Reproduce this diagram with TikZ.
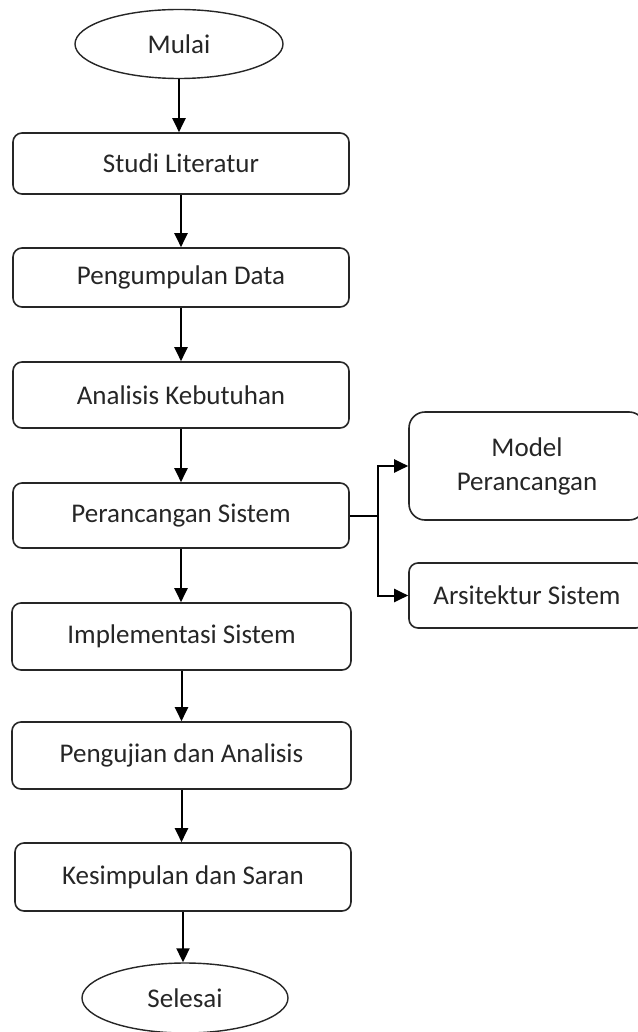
\documentclass[tikz,border=0pt]{standalone}
\usepackage{fontspec}
\setmainfont{Carlito}
\usetikzlibrary{shapes.geometric,arrows.meta,calc}
\begin{document}
\begin{tikzpicture}[x=1pt,y=-1pt,
  every node/.style={font=\fontsize{27}{33}\selectfont, text=black!85},
  box/.style={draw=black!85, line width=1.6pt, rounded corners=9pt, align=center, inner sep=0pt},
  term/.style={draw=black!85, line width=1.4pt, ellipse, inner sep=0pt},
  arr/.style={draw=black, line width=2pt, -{Triangle[length=14pt,width=13pt]}},
  ln/.style={draw=black, line width=2pt}]
\useasboundingbox (0,0) rectangle (637,1032);
\node[term, minimum width=208pt, minimum height=69pt] (mulai) at (179,44) {Mulai};
\node[box, minimum width=336pt, minimum height=61pt] (studi) at (181,163.5) {Studi Literatur};
\node[box, minimum width=336pt, minimum height=59pt] (kumpul) at (181,277.5) {Pengumpulan Data};
\node[box, minimum width=336pt, minimum height=66pt] (analisis) at (181,395) {Analisis Kebutuhan};
\node[box, minimum width=336pt, minimum height=65pt] (rancang) at (181,515.5) {Perancangan Sistem};
\node[box, minimum width=339pt, minimum height=67pt] (impl) at (181.5,636.5) {Implementasi Sistem};
\node[box, minimum width=339pt, minimum height=67pt] (uji) at (181.5,755.5) {Pengujian dan Analisis};
\node[box, minimum width=336pt, minimum height=68pt] (simpul) at (183,877) {Kesimpulan dan Saran};
\node[term, minimum width=206pt, minimum height=70pt] (selesai) at (185,998) {Selesai};
\node[box, rounded corners=16pt, minimum width=236pt, minimum height=108pt, text width=230pt, font=\fontsize{27}{34}\selectfont] (model) at (527,466) {Model\\Perancangan};
\node[box, minimum width=236pt, minimum height=65pt] (arsi) at (527,595.5) {Arsitektur Sistem};
\coordinate (j) at (378,515.5);

\draw[arr] (mulai.south) -- (mulai.south |- studi.north);
\draw[arr] (studi.south) -- (studi.south |- kumpul.north);
\draw[arr] (kumpul.south) -- (kumpul.south |- analisis.north);
\draw[arr] (analisis.south) -- (analisis.south |- rancang.north);
\draw[arr] (rancang.south) -- (rancang.south |- impl.north);
\draw[arr] (impl.south) -- (impl.south |- uji.north);
\draw[arr] (uji.south) -- (uji.south |- simpul.north);
\draw[arr] (simpul.south) -- (simpul.south |- selesai.north);
\draw[ln] (rancang.east) -- (j);
\draw[arr] (j) |- (model.west);
\draw[arr] (j) |- (arsi.west);
\end{tikzpicture}
\end{document}
